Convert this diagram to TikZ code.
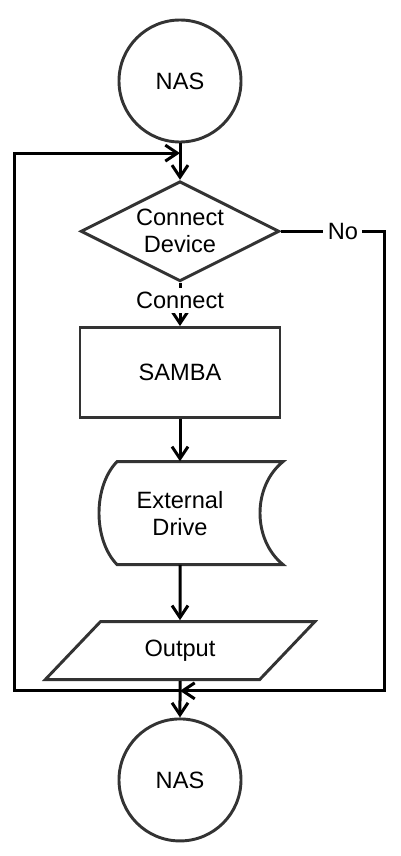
\documentclass[tikz,border=0pt]{standalone}
\usepackage{fontspec}
\setmainfont{Liberation Sans}
\usetikzlibrary{shapes.geometric, arrows.meta, positioning, calc}
\definecolor{edgegray}{HTML}{333333}

\begin{document}
\begin{tikzpicture}[node distance=32.5pt, font=\fontsize{17.7}{20.3}\selectfont]
\tikzstyle{terminal} = [circle, draw=edgegray, line width=2.2pt, minimum size=91.5pt, inner sep=0pt]
\tikzstyle{decision} = [diamond, aspect=2, draw=edgegray, line width=2.2pt, minimum width=149pt,
                       minimum height=75pt, inner sep=0pt, align=center]
\tikzstyle{process} = [rectangle, draw=edgegray, line width=2.2pt, minimum width=150pt, minimum height=67.5pt]
\tikzstyle{storage} = [rectangle, minimum width=121.5pt, minimum height=77.25pt, align=center]
\tikzstyle{io} = [trapezium, trapezium left angle=41, trapezium right angle=139, trapezium stretches=true,
                 draw=edgegray, line width=2.2pt, minimum width=202.5pt, minimum height=43.5pt, inner sep=0pt]
\tikzstyle{arrow} = [line width=2.25pt, -{Straight Barb[length=9pt, width=12pt]}]
\useasboundingbox (-135pt,60.75pt) rectangle (165pt,-581.25pt);
\node (nastop) [terminal] {NAS};
\node (connect) [decision, below=27.25pt of nastop] {Connect\\Device};
\node (samba) [process, below=of connect] {SAMBA};
\node (drive) [storage, below=31.75pt of samba] {External\\Drive};
\node (output) [io, below=41.5pt of drive] {Output};
\node (nasend) [terminal, below=27.25pt of output] {NAS};
\coordinate [below=7.25pt of nastop] (loopin);
\coordinate [below=7.25pt of output] (loopout);
\draw [edgegray, line width=2.2pt] ($(drive.center)+(-47.25pt,38.6pt)$) -- ($(drive.center)+(77.25pt,38.6pt)$)
  .. controls ($(drive.center)+(54.25pt,20pt)$) and ($(drive.center)+(54.25pt,-20pt)$) .. ($(drive.center)+(77.25pt,-38.6pt)$)
  -- ($(drive.center)+(-47.25pt,-38.6pt)$)
  .. controls ($(drive.center)+(-65.25pt,-20pt)$) and ($(drive.center)+(-65.25pt,20pt)$) .. cycle;
\draw [arrow] (nastop) -- (connect);
\draw [arrow] (connect) -- node[fill=white, pos=0.41] {Connect} (samba);
\draw [arrow] (samba) -- (drive);
\draw [arrow] (drive) -- (output);
\draw [arrow] (output) -- (nasend);
\draw [arrow] (connect.east) -- node[fill=white, pos=0.6] {No} ++(77.6pt,0) |- (loopout);
\draw [arrow] (loopout) -- ++(-123.75pt,0) |- (loopin);
\end{tikzpicture}
\end{document}
